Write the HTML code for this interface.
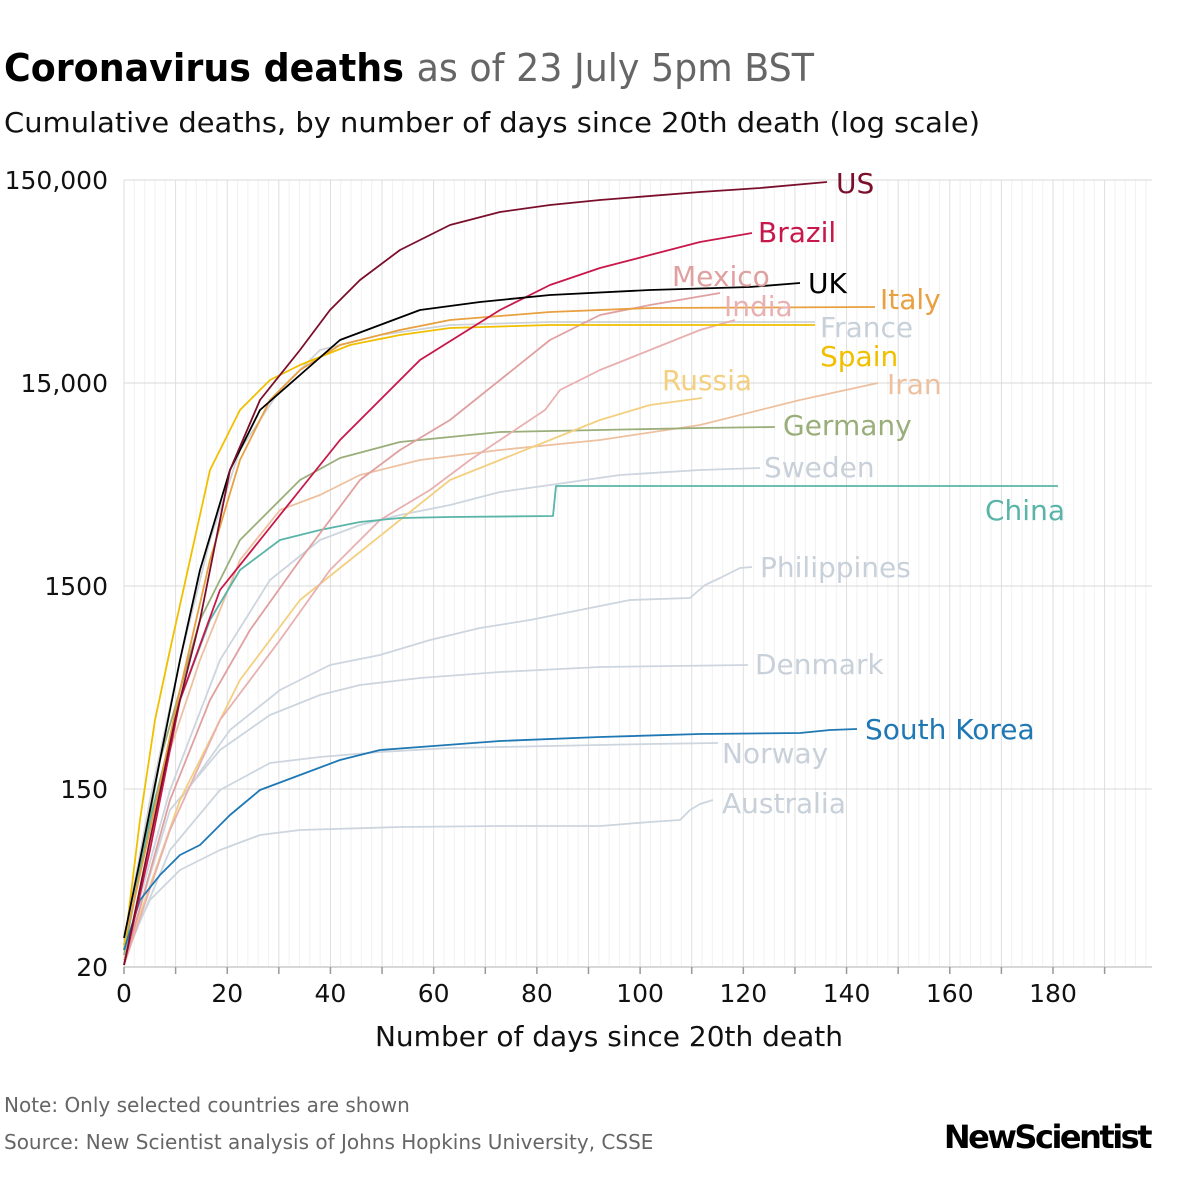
<!DOCTYPE html>
<html><head><meta charset="utf-8"><style>
body{margin:0;background:#fff;width:1200px;height:1200px;overflow:hidden;font-family:"DejaVu Sans","Liberation Sans",sans-serif}
</style></head><body>
<svg id="s" width="1200" height="1200" xmlns="http://www.w3.org/2000/svg">
<g id="grid"></g>
<g id="lines" fill="none" stroke-width="1.8" stroke-linejoin="round"></g>
<text x="4" y="81" font-size="38" font-weight="bold" fill="#000" textLength="810" lengthAdjust="spacingAndGlyphs">Coronavirus deaths <tspan font-weight="normal" fill="#666">as of 23 July 5pm BST</tspan></text>
<text x="4" y="132" font-size="28" fill="#111" textLength="976" lengthAdjust="spacingAndGlyphs">Cumulative deaths, by number of days since 20th death (log scale)</text>
<g font-size="25" fill="#111" text-anchor="end">
<text x="108" y="189">150,000</text><text x="108" y="392">15,000</text><text x="108" y="595">1500</text><text x="108" y="798">150</text><text x="108" y="976">20</text>
</g>
<g font-size="25" fill="#111" text-anchor="middle" id="xl"></g>
<text x="609" y="1046" font-size="28" text-anchor="middle" fill="#111">Number of days since 20th death</text>
<text x="4" y="1112" font-size="20" fill="#666">Note: Only selected countries are shown</text>
<text x="4" y="1149" font-size="20" fill="#666">Source: New Scientist analysis of Johns Hopkins University, CSSE</text>
<text x="1150" y="1148" font-size="32" font-weight="bold" text-anchor="end" fill="#000" letter-spacing="-2.5">NewScientist</text>
<g id="labels" font-size="28"></g>
</svg>
<script>
const ns="http://www.w3.org/2000/svg";
function el(p,t,a,txt){const e=document.createElementNS(ns,t);for(const k in a)e.setAttribute(k,a[k]);if(txt)e.textContent=txt;document.getElementById(p).appendChild(e);return e;}
const d=(1053-124)/180;
for(let i=0;i<=198;i+=2){const x=124+i*d;el('grid','line',{x1:x,x2:x,y1:180,y2:967,stroke:i%10==0?'#dedede':'#f1f1f1','stroke-width':1});}
[180,383,586,789].forEach(y=>el('grid','line',{x1:124,x2:1152,y1:y,y2:y,stroke:'#d8d8d8','stroke-width':1}));
el('grid','line',{x1:124,x2:1152,y1:967,y2:967,stroke:'#ccc','stroke-width':1.5});
for(let i=0;i<=190;i+=10){const x=124+i*d;el('grid','line',{x1:x,x2:x,y1:967,y2:974,stroke:'#999','stroke-width':1.5});if(i%20==0)el('xl','text',{x:x,y:1002},String(i));}
const S=[
['#cdd5de','124,955 150,900 180,870 220,850 260,835 300,830 400,827 500,826 600,826 650,822 680,820 690,810 700,804 713,800','Australia',722,803],
['#cdd5de','124,960 170,850 220,790 270,763 320,757 380,752 450,748 550,746 650,744 718,743','Norway',722,753],
['#cdd5de','124,960 170,810 220,750 270,715 320,695 360,685 420,678 500,672 600,667 748,665','Denmark',755,664],
['#cdd5de','124,960 180,800 230,730 280,690 330,665 380,655 430,640 480,628 530,620 580,610 630,600 690,598 705,585 720,578 740,568 752,567','Philippines',760,567],
['#cdd5de','124,955 170,790 220,660 270,580 320,540 360,525 400,515 450,505 500,492 550,485 620,475 700,470 760,468','Sweden',764,467],
['#cfd3d8','124,940 150,800 180,660 210,540 240,450 280,390 320,350 380,335 450,325 550,322 815,322','France',820,327],
['#edc0a0','124,950 160,780 200,660 240,560 280,510 320,495 360,475 420,460 500,450 600,440 700,425 800,400 878,383','Iran',887,384],
['#9aae7a','124,955 160,760 200,620 240,540 270,510 300,480 340,458 400,442 450,437 500,432 600,430 700,428 775,427','Germany',783,425],
['#f3d080','124,960 180,800 240,680 300,600 350,560 400,520 450,480 500,460 550,440 600,420 650,405 702,398','Russia',662,380],
['#e8b0b0','124,965 170,830 220,720 280,640 330,570 380,520 430,490 470,460 500,440 545,410 560,390 600,370 650,350 700,330 735,320','India',724,306],
['#5ab5a8','124,950 150,820 180,700 210,620 240,570 280,540 320,530 360,522 400,518 450,517 553,516 556,486 1058,486','China',985,510],
['#e0a0a0','124,965 170,800 210,700 250,630 300,560 360,480 400,450 450,420 500,380 550,340 600,315 650,305 720,293','Mexico',672,276],
['#e8a040','124,945 150,830 180,690 210,560 240,460 270,400 300,370 340,345 400,330 450,320 550,312 650,308 875,307','Italy',880,299],
['#f0c000','124,950 140,820 155,720 170,650 190,560 210,470 240,410 270,380 300,365 350,345 400,335 450,328 550,325 815,325','Spain',820,356],
['#1f78b4','124,950 140,900 160,875 180,855 200,845 230,815 260,790 300,775 340,760 380,750 420,747 500,741 600,737 700,734 800,733 830,730 857,729','South Korea',865,729],
['#c8174a','124,965 150,850 180,700 220,590 260,540 300,490 340,440 380,400 420,360 460,335 500,310 550,285 600,268 650,255 700,242 752,233','Brazil',758,232],
['#000','124,938 140,860 160,760 180,660 200,570 230,470 260,410 300,375 340,340 380,325 420,310 480,302 550,295 650,290 750,287 800,283','UK',808,283],
['#7b0f2b','124,965 150,840 175,720 200,620 230,470 260,400 300,350 330,310 360,280 400,250 450,225 500,212 550,205 600,200 700,192 760,188 827,182','US',836,183]
];
S.forEach(s=>{el('lines','polyline',{points:s[1],stroke:s[0]});el('labels','text',{x:s[3],y:s[4]+10,fill:s[0]=='#cfd3d8'||s[0]=='#cdd5de'?'#c8d0da':s[0]},s[2]);});
</script>
</body></html>
